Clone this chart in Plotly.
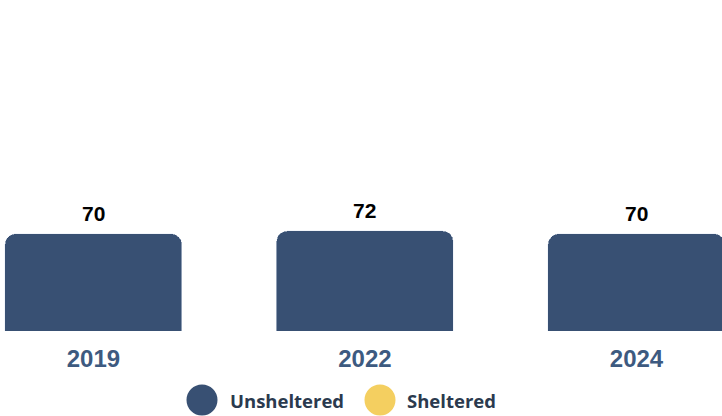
import plotly.graph_objects as go

years = ["2019", "2022", "2024"]
unsheltered = [70, 72, 70]
sheltered = [0, 0, 0]
series_names = ["Unsheltered", "Sheltered"]
series_colors = ["#385073", "#f4cf60"]

W, H = 722, 416
M_TOP, M_BOT = 0, 85
plot_h = H - M_TOP - M_BOT

fig = go.Figure()
fig.add_trace(go.Bar(x=years, y=sheltered, name=series_names[1],
                     marker_color=series_colors[1], showlegend=False, hoverinfo="skip"))
fig.add_trace(go.Bar(x=years, y=unsheltered, name=series_names[0],
                     marker_color=series_colors[0], showlegend=False))

# value labels (category axis: position by category index)
for i, (u, s) in enumerate(zip(unsheltered, sheltered)):
    fig.add_annotation(x=i, y=u + s, text=f"<b>{u + s}</b>", showarrow=False,
                       yanchor="bottom", yshift=7,
                       font=dict(family="Liberation Sans, Arial", size=21, color="#000000"))

# manual legend with big circles
legend_y_px = 400
legend_items = [(202, 228), (380, 405)]
for (cx, tx), name, col in zip(legend_items, series_names, series_colors):
    py = (H - M_BOT - legend_y_px) / plot_h
    fig.add_shape(type="circle", xref="paper", yref="paper",
                  xsizemode="pixel", ysizemode="pixel",
                  xanchor=cx / W, yanchor=py,
                  x0=-15.5, x1=15.5, y0=-15.5, y1=15.5,
                  fillcolor=col, line_width=0)
    fig.add_annotation(xref="paper", yref="paper", x=tx / W, y=py,
                       xanchor="left", yanchor="middle", showarrow=False,
                       text=f"<b>{name}</b>",
                       font=dict(family="Open Sans", size=18.5, color="#2b3a4e"))

fig.update_layout(
    width=W, height=H,
    margin=dict(l=0, r=0, t=M_TOP, b=M_BOT),
    barmode="stack",
    bargap=0.348,
    barcornerradius=11,
    plot_bgcolor="white", paper_bgcolor="white",
    showlegend=False,
    xaxis=dict(type="category", range=[-0.344, 2.315], showgrid=False,
               zeroline=False, showline=False,
               ticks="outside", ticklen=6, tickcolor="rgba(0,0,0,0)",
               tickfont=dict(family="Liberation Sans, Arial", size=24, color="#3d5a80"),
               tickprefix="<b>", ticksuffix="</b>"),
    yaxis=dict(range=[0, 238], visible=False, showgrid=False, zeroline=False),
)

fig.write_html("out.html")
